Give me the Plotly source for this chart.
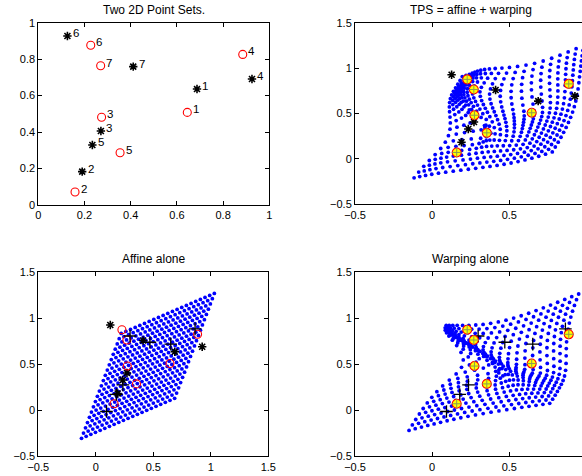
import numpy as np
import plotly.graph_objects as go

# ---- data ----
labels = ["1", "2", "3", "4", "5", "6", "7"]
star_x = [0.687, 0.190, 0.271, 0.925, 0.234, 0.126, 0.411]
star_y = [0.636, 0.183, 0.406, 0.691, 0.329, 0.927, 0.759]
circ_x = [0.645, 0.159, 0.274, 0.885, 0.354, 0.227, 0.270]
circ_y = [0.508, 0.071, 0.481, 0.826, 0.287, 0.876, 0.764]
grid_n = 21          # points per side of the source unit-square grid (0:0.05:1)
grid_lo, grid_hi = 0.0, 1.0

titles = ["Two 2D Point Sets.", "TPS = affine + warping", "Affine alone", "Warping alone"]
ticks_tl = [0, 0.2, 0.4, 0.6, 0.8, 1]
ticks_big = [-0.5, 0, 0.5, 1, 1.5]


# ---- thin-plate spline (the computation behind the figure) ----
def kern(d2):
    d2 = np.asarray(d2, float)
    out = np.zeros_like(d2)
    m = d2 > 0
    out[m] = 0.5 * d2[m] * np.log(d2[m])
    return out


def sqdist(a, b):
    return ((a[:, None, :] - b[None, :, :]) ** 2).sum(-1)


def tps_fit(src, dst):
    n = len(src)
    K = kern(sqdist(src, src))
    P = np.hstack([np.ones((n, 1)), src])
    L = np.zeros((n + 3, n + 3))
    L[:n, :n] = K
    L[:n, n:] = P
    L[n:, :n] = P.T
    rhs = np.vstack([dst, np.zeros((3, 2))])
    sol = np.linalg.solve(L, rhs)
    return sol[:n], sol[n:]


def affine_part(a, pts):
    return np.hstack([np.ones((len(pts), 1)), pts]) @ a


def warp_part(src, w, pts):
    return kern(sqdist(pts, src)) @ w


src = np.column_stack([star_x, star_y])
dst = np.column_stack([circ_x, circ_y])
g = np.linspace(grid_lo, grid_hi, grid_n)
gu, gv = np.meshgrid(g, g)
grid = np.column_stack([gu.ravel(), gv.ravel()])

w, a = tps_fit(src, dst)
g_aff = affine_part(a, grid)
g_tps = g_aff + warp_part(src, w, grid)
s_aff = affine_part(a, src)
g_wonly = g_aff + warp_part(src, w, g_aff)

# ---- layout geometry (pixels) ----
W, H = 582, 476


def dx(p):
    return p / W


def dy(p):
    return 1 - p / H


FONT = "Liberation Sans, Arial, Helvetica, sans-serif"
fig = go.Figure()

blue = dict(color="#0000ff", size=3.8)
star_m = dict(symbol="asterisk-open", size=7, color="black", line=dict(width=1.6))
circ_m = dict(symbol="circle-open", size=8, color="red", line=dict(width=1.1))
plus_m = dict(symbol="cross-thin-open", size=9, color="black", line=dict(width=1.3))
yel_m = dict(symbol="circle", size=9, color="#ffff00", line=dict(width=1.1, color="red"))
ypl_m = dict(symbol="cross-thin-open", size=7, color="#8c9c50", line=dict(width=1))


def add(x, y, marker, k):
    fig.add_trace(go.Scatter(x=x, y=y, mode="markers", marker=marker, hoverinfo="skip",
                             xaxis="x" if k == 1 else f"x{k}",
                             yaxis="y" if k == 1 else f"y{k}"))


# panel 1
add(circ_x, circ_y, circ_m, 1)
add(star_x, star_y, star_m, 1)
# panel 2 (TPS)
add(g_tps[:, 0], g_tps[:, 1], blue, 2)
add(star_x, star_y, star_m, 2)
add(circ_x, circ_y, yel_m, 2)
add(circ_x, circ_y, ypl_m, 2)
# panel 3 (affine)
add(g_aff[:, 0], g_aff[:, 1], blue, 3)
add(star_x, star_y, star_m, 3)
add(circ_x, circ_y, circ_m, 3)
add(s_aff[:, 0], s_aff[:, 1], plus_m, 3)
# panel 4 (warping)
add(g_wonly[:, 0], g_wonly[:, 1], blue, 4)
add(s_aff[:, 0], s_aff[:, 1], plus_m, 4)
add(circ_x, circ_y, yel_m, 4)
add(circ_x, circ_y, ypl_m, 4)

base = dict(showline=True, linecolor="black", linewidth=1, ticks="inside", ticklen=4,
            tickcolor="black", tickwidth=1, showgrid=False, zeroline=False, automargin=False,
            tickfont=dict(family=FONT, size=11, color="black"))

boxes = {
    1: (38.3, 269.3, 22.7, 205.0),
    2: (355.0, 582.0, 22.7, 204.3),
    3: (38.3, 268.3, 272.3, 456.3),
    4: (355.0, 582.0, 272.3, 456.3),
}
x_right = 0.5 + (582 - 509.3) / 154.4
xr = {1: [0, 1], 2: [-0.5, x_right], 3: [-0.5, 1.5], 4: [-0.5, x_right]}
yr = {1: [0, 1], 2: [-0.5, 1.5], 3: [-0.5, 1.5], 4: [-0.5, 1.5]}
tv = {1: ticks_tl, 2: ticks_big, 3: ticks_big, 4: ticks_big}

lay = {}
for k, (l, r, t, b) in boxes.items():
    xn = "xaxis" if k == 1 else f"xaxis{k}"
    yn = "yaxis" if k == 1 else f"yaxis{k}"
    lay[xn] = dict(base, domain=[dx(l), min(dx(r), 1)], range=xr[k], tickvals=tv[k],
                   ticktext=[f"{v:g}".replace("-", "\u2212") for v in tv[k]], mirror="ticks",
                   anchor="y" if k == 1 else f"y{k}")
    lay[yn] = dict(base, domain=[dy(b), dy(t)], range=yr[k], tickvals=tv[k],
                   ticktext=[f"{v:g}".replace("-", "\u2212") for v in tv[k]],
                   mirror="ticks" if k in (1, 3) else False,
                   anchor="x" if k == 1 else f"x{k}")

ann = []
title_pos = {1: (153.8, 10), 2: (471, 10), 3: (153.8, 259), 4: (470, 259)}
for k, (px, py) in title_pos.items():
    ann.append(dict(text=titles[k - 1], x=dx(px), y=dy(py), xref="paper", yref="paper",
                    showarrow=False, xanchor="center", yanchor="middle",
                    font=dict(family=FONT, size=12, color="black")))
for xs, ys in ((circ_x, circ_y), (star_x, star_y)):
    for lab, x, y in zip(labels, xs, ys):
        ann.append(dict(text=lab, x=x, y=y, xref="x", yref="y", showarrow=False,
                        xanchor="left", yanchor="middle", xshift=3.5, yshift=3,
                        font=dict(family=FONT, size=11.5, color="black")))

fig.update_layout(width=W, height=H, margin=dict(l=0, r=0, t=0, b=0), template="none",
                  font=dict(family=FONT, size=11, color="black"),
                  paper_bgcolor="white", plot_bgcolor="white", showlegend=False,
                  annotations=ann, **lay)
fig.write_html("out.html", config={"displayModeBar": False, "staticPlot": True},
               post_script="document.body.style.margin='0';document.body.style.overflow='hidden';")
